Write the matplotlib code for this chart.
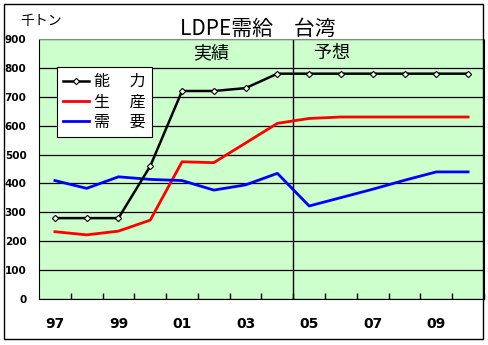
import matplotlib
matplotlib.use('Agg')
import matplotlib.pyplot as plt
from matplotlib.patches import Rectangle

plt.rcParams['font.family'] = ['Noto Sans CJK JP', 'DejaVu Sans']

years = ['97', '98', '99', '00', '01', '02', '03', '04', '05', '06', '07', '08', '09', '10']
capacity = [280, 280, 280, 460, 720, 720, 730, 780, 780, 780, 780, 780, 780, 780]
production = [233, 222, 235, 273, 475, 472, 540, 608, 625, 630, 630, 630, 630, 630]
demand = [410, 383, 423, 414, 410, 377, 395, 435, 322, 351, 380, 411, 440, 440]
yticks = [0, 100, 200, 300, 400, 500, 600, 700, 800, 900]
xlabels = ['97', '', '99', '', '01', '', '03', '', '05', '', '07', '', '09', '']

fig = plt.figure(figsize=(4.89, 3.45), dpi=100)
ax = fig.add_axes([39 / 489, 1 - 299 / 345, 445 / 489, 260 / 345])
ax.set_facecolor('#CCFFCC')

x = list(range(len(years)))
ax.plot(x, capacity, color='black', lw=1.8, marker='D', ms=3.2,
        mfc='white', mec='black', mew=0.8, label='能　 力', zorder=4)
ax.plot(x, production, color='red', lw=2, label='生　 産', zorder=3)
ax.plot(x, demand, color='blue', lw=2, label='需　 要', zorder=3)

ax.set_xlim(-0.5, len(years) - 0.5)
ax.set_ylim(0, 900)
ax.set_yticks(yticks)
ax.set_yticklabels([str(v) for v in yticks], fontsize=7.5, fontweight='bold',
                   family='DejaVu Sans')
ax.tick_params(axis='y', length=0, pad=9)
ax.set_xticks(x)
ax.set_xticklabels(xlabels, fontsize=10, fontweight='bold', family='DejaVu Sans')
ax.tick_params(axis='x', length=0, pad=13)
ax.set_xticks([i + 0.5 for i in x], minor=True)
ax.tick_params(axis='x', which='minor', direction='in', length=4, width=1)
ax.grid(axis='y', color='black', lw=0.9)
ax.set_axisbelow(True)
ax.axvline(7.5, color='black', lw=1, zorder=2)

for s in ['left', 'bottom', 'right']:
    ax.spines[s].set_color('black')
ax.spines['top'].set_color('#888888')

leg = ax.legend(loc='upper left', bbox_to_anchor=(0.04, 0.893), fontsize=11.5,
                frameon=True, fancybox=False, edgecolor='black', framealpha=1,
                handlelength=1.6, handletextpad=0.3, borderpad=0.4,
                labelspacing=0.2, borderaxespad=0)
leg.get_frame().set_linewidth(0.8)

fig.text(258 / 489, 1 - 29 / 345, 'LDPE需給　台湾', fontsize=15,
         ha='center', va='center')
fig.text(41 / 489, 1 - 21 / 345, '千トン', fontsize=10, ha='center', va='center')
fig.text(211 / 489, 1 - 53 / 345, '実績', fontsize=13, ha='center', va='center')
fig.text(332 / 489, 1 - 53 / 345, '予想', fontsize=13, ha='center', va='center')

fig.patches.append(Rectangle((4 / 489, 1 - 339 / 345), 479 / 489, 335 / 345,
                             transform=fig.transFigure, fill=False,
                             edgecolor='black', lw=1))

fig.savefig('out.png', dpi=100)
